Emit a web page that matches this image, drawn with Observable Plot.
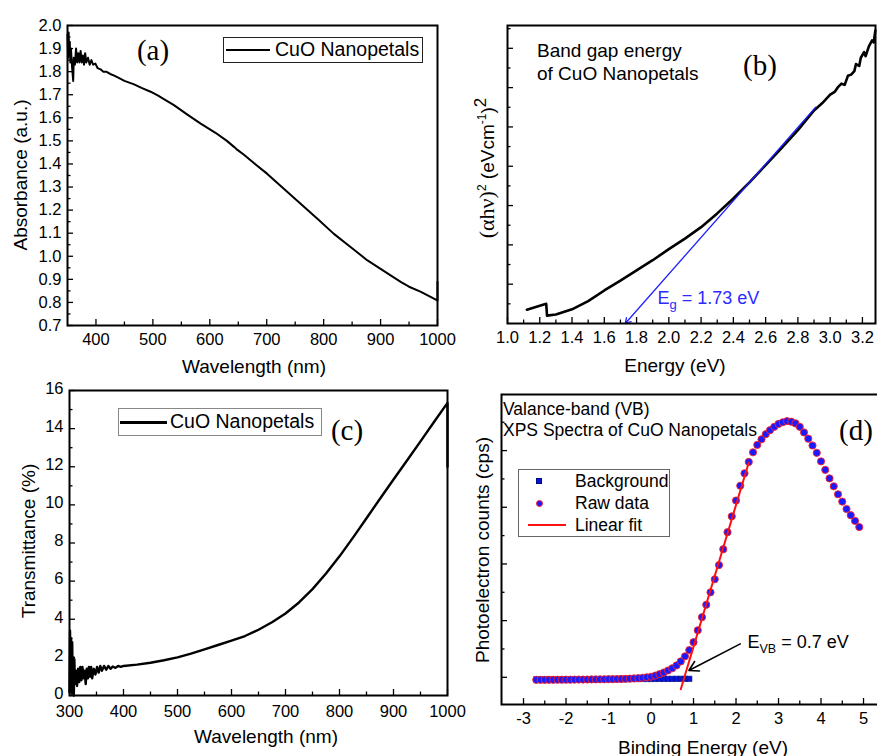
<!DOCTYPE html>
<html><head><meta charset="utf-8">
<script src="https://cdn.jsdelivr.net/npm/d3@7"></script>
<script src="https://cdn.jsdelivr.net/npm/@observablehq/plot@0.6"></script>
<style>
body{margin:0;background:#fff;}
#fig{position:relative;width:877px;height:756px;overflow:hidden;background:#fff;font-family:"Liberation Sans",Arial,sans-serif;color:#000;}
.t{position:absolute;white-space:nowrap;line-height:1;}
.c{transform:translate(-50%,-50%);}
.v{transform:translateY(-50%);}
.rot{transform:translate(-50%,-50%) rotate(-90deg);}
.serif{font-family:"Liberation Serif","Times New Roman",serif;}
.box{position:absolute;box-sizing:border-box;background:#fff;}
</style></head><body><div id="fig"></div><script>
// ---------- DATA ----------
// (a) absorbance vs wavelength (nm)
const absorbance = [[350,1.96],[351,1.86],[352,1.97],[353,1.87],[354,1.93],[355,1.84],[356,1.90],[358,1.82],[360,1.76],[361,1.86],[363,1.83],[365,1.90],[367,1.84],[369,1.88],[371,1.84],[373,1.89],[375,1.84],[377,1.87],[379,1.83],[381,1.88],[383,1.84],[386,1.86],[389,1.83],[392,1.85],[395,1.83],[399,1.835],[403,1.815],[408,1.81],[413,1.80],[418,1.80],[425,1.79],[432,1.783],[440,1.773],[450,1.76],[467,1.745],[480,1.73],[496,1.713],[510,1.695],[520,1.68],[537,1.655],[560,1.615],[584,1.575],[610,1.535],[630,1.50],[643,1.473],[648,1.462],[660,1.44],[680,1.399],[701,1.357],[730,1.293],[760,1.227],[790,1.16],[818,1.097],[850,1.035],[877,0.982],[900,0.945],[936,0.888],[950,0.868],[970,0.847],[998,0.811],[1000,0.808],[1000,0.89]];
// (b) (alpha h nu)^2 vs photon energy (eV)
const bandgap = [[1.12,0.35],[1.24,0.50],[1.245,0.20],[1.30,0.23],[1.40,0.36],[1.50,0.57],[1.60,0.84],[1.70,1.09],[1.80,1.35],[1.90,1.61],[2.00,1.89],[2.10,2.16],[2.20,2.45],[2.30,2.80],[2.40,3.18],[2.50,3.59],[2.60,4.03],[2.70,4.47],[2.80,4.92],[2.90,5.42],[2.95,5.60],[3.00,5.82],[3.03,5.90],[3.05,6.02],[3.07,6.10],[3.09,6.07],[3.11,6.30],[3.13,6.33],[3.15,6.42],[3.16,6.60],[3.18,6.55],[3.19,6.76],[3.21,6.90],[3.22,6.80],[3.24,7.05],[3.26,7.20],[3.27,7.15],[3.28,7.45]];
const bandgapTangent = [{e1: 2.91, v1: 5.5, e2: 1.73, v2: 0}];
const bandgapLabel = [{e: 1.93, v: 0.64, text: "Eg = 1.73 eV"}];
// (c) transmittance (%) vs wavelength (nm)
const transmittance = [[300,0.2],[301,3.4],[302,0.5],[303,3.0],[304,0.1],[305,2.8],[306,0.3],[307,2.0],[308,0.0],[309,1.9],[310,0.6],[312,1.3],[314,0.5],[316,1.4],[318,0.7],[320,1.5],[322,0.8],[324,1.5],[326,0.9],[328,1.3],[330,0.6],[332,1.4],[334,0.9],[336,1.5],[338,1.0],[340,1.5],[342,0.9],[345,1.4],[348,1.1],[351,1.5],[354,1.2],[357,1.55],[360,1.3],[364,1.55],[368,1.35],[372,1.55],[376,1.4],[380,1.52],[385,1.45],[390,1.55],[395,1.5],[400,1.55],[425,1.62],[450,1.72],[475,1.85],[500,2.0],[525,2.2],[550,2.42],[575,2.65],[600,2.88],[625,3.12],[650,3.45],[675,3.84],[700,4.3],[725,4.88],[750,5.58],[775,6.4],[800,7.3],[825,8.28],[850,9.3],[875,10.32],[900,11.33],[925,12.33],[950,13.33],[975,14.35],[1000,15.35],[1000,12.0]];
// (d) valence-band XPS: binding energy (eV) vs counts (arb.)
const vbRaw = [[-2.7,0.955],[-2.6,0.955],[-2.5,0.955],[-2.4,0.956],[-2.3,0.956],[-2.2,0.957],[-2.1,0.957],[-2.0,0.958],[-1.9,0.958],[-1.8,0.959],[-1.7,0.96],[-1.6,0.96],[-1.5,0.961],[-1.4,0.962],[-1.3,0.963],[-1.2,0.964],[-1.1,0.965],[-1.0,0.966],[-0.9,0.967],[-0.8,0.969],[-0.7,0.971],[-0.6,0.973],[-0.5,0.976],[-0.4,0.98],[-0.3,0.985],[-0.2,0.99],[-0.1,1.0],[0.0,1.01],[0.1,1.03],[0.2,1.055],[0.3,1.085],[0.4,1.12],[0.5,1.16],[0.6,1.21],[0.7,1.28],[0.8,1.37],[0.9,1.48],[1.0,1.62],[1.1,1.83],[1.2,2.06],[1.3,2.28],[1.4,2.5],[1.5,2.73],[1.6,2.98],[1.7,3.26],[1.8,3.56],[1.9,3.84],[2.0,4.12],[2.1,4.38],[2.2,4.6],[2.3,4.8],[2.4,4.97],[2.5,5.1],[2.6,5.2],[2.7,5.29],[2.8,5.36],[2.9,5.42],[3.0,5.47],[3.1,5.5],[3.2,5.52],[3.3,5.51],[3.4,5.48],[3.5,5.42],[3.6,5.32],[3.7,5.21],[3.8,5.09],[3.9,4.96],[4.0,4.81],[4.1,4.66],[4.2,4.51],[4.3,4.37],[4.4,4.23],[4.5,4.1],[4.6,3.97],[4.7,3.86],[4.8,3.76],[4.9,3.65]];
const vbBackground = [[-2.7,0.965],[-2.6,0.965],[-2.5,0.965],[-2.4,0.965],[-2.3,0.965],[-2.2,0.966],[-2.1,0.966],[-2.0,0.966],[-1.9,0.966],[-1.8,0.967],[-1.7,0.967],[-1.6,0.967],[-1.5,0.967],[-1.4,0.968],[-1.3,0.968],[-1.2,0.968],[-1.1,0.968],[-1.0,0.969],[-0.9,0.969],[-0.8,0.969],[-0.7,0.969],[-0.6,0.970],[-0.5,0.970],[-0.4,0.970],[-0.3,0.970],[-0.2,0.971],[-0.1,0.971],[0.0,0.971],[0.1,0.971],[0.2,0.972],[0.3,0.972],[0.4,0.972],[0.5,0.972],[0.6,0.973],[0.7,0.973],[0.8,0.973],[0.9,0.973]];
const vbFit = [[0.7,0.79],[2.3,4.79]];
const vbArrow = [{e1: 2.1, c1: 1.59, e2: 0.89, c2: 1.12}];
const vbLabel = [{e: 2.27, c: 1.62, text: "EVB = 0.7 eV"}];

// tick values
const aXMajor = [400,500,600,700,800,900,1000], aXMinor = [450,550,650,750,850,950];
const aYMajor = [0.7,0.8,0.9,1.0,1.1,1.2,1.3,1.4,1.5,1.6,1.7,1.8,1.9,2.0];
const aYMinor = [0.75,0.85,0.95,1.05,1.15,1.25,1.35,1.45,1.55,1.65,1.75,1.85,1.95];
const bXMajor = [1.0,1.2,1.4,1.6,1.8,2.0,2.2,2.4,2.6,2.8,3.0,3.2], bXMinor = [1.1,1.3,1.5,1.7,1.9,2.1,2.3,2.5,2.7,2.9,3.1];
const bYMajor = [1,2,3,4,5,6,7], bYMinor = [0.5,1.5,2.5,3.5,4.5,5.5,6.5,7.5];
const cXMajor = [300,400,500,600,700,800,900,1000], cXMinor = [350,450,550,650,750,850,950];
const cYMajor = [0,2,4,6,8,10,12,14,16], cYMinor = [1,3,5,7,9,11,13,15];
const dXMajor = [-3,-2,-1,0,1,2,3,4,5], dXMinor = [-2.5,-1.5,-0.5,0.5,1.5,2.5,3.5,4.5];
const dYMajor = [1,2,3,4,5], dYMinor = [1.5,2.5,3.5,4.5,5.5];

// ---------- DRAWING ----------
const fig = document.getElementById("fig");
const FONT = '"Liberation Sans", Arial, sans-serif';
const style = {fontFamily: FONT, fontSize: "16.5px", background: "transparent", overflow: "visible", color: "black"};

function axes({xMaj, xMin, yMaj, yMin, xFmt, yFmt, yText = true, xPad = 8, yDy = 0}) {
  const blank = () => "";
  const m = [
    Plot.axisX(xMaj, {tickSize: 6, dy: -6, strokeWidth: 1.3, tickFormat: blank, label: null}),
    Plot.axisX(xMin, {tickSize: 3.5, dy: -3.5, strokeWidth: 1.3, tickFormat: blank, label: null}),
    Plot.axisX(xMaj, {tickSize: 0, tickPadding: xPad, tickFormat: xFmt, label: null}),
    Plot.axisY(yMaj, {tickSize: 6, dx: 6, strokeWidth: 1.3, tickFormat: blank, label: null}),
    Plot.axisY(yMin, {tickSize: 3.5, dx: 3.5, strokeWidth: 1.3, tickFormat: blank, label: null})
  ];
  if (yText) m.push(Plot.axisY(yMaj, {tickSize: 0, tickPadding: 6, dy: yDy, tickFormat: yFmt, label: null}));
  return m;
}
function place(svg, left, top) {
  svg.style.position = "absolute";
  svg.style.left = left + "px";
  svg.style.top = top + "px";
  fig.appendChild(svg);
}
function subText(svg, placeholder, html) {
  svg.querySelectorAll("text").forEach(t => { if (t.textContent === placeholder) t.innerHTML = html; });
}

// Panel (a)
const pa = Plot.plot({
  width: 440, height: 380, marginLeft: 67, marginRight: 3, marginTop: 25, marginBottom: 55, style,
  x: {domain: [350, 1000], label: null}, y: {domain: [0.7, 2.0], label: null},
  marks: [
    ...axes({xMaj: aXMajor, xMin: aXMinor, yMaj: aYMajor, yMin: aYMinor, xFmt: d => String(d), yFmt: d3.format(".1f")}),
    Plot.line(absorbance, {x: d => d[0], y: d => d[1], stroke: "black", strokeWidth: 2}),
    Plot.frame({stroke: "black", strokeWidth: 2})
  ]
});
place(pa, 0, 0);

// Panel (b)
const pb = Plot.plot({
  width: 437, height: 380, marginLeft: 67, marginRight: 2, marginTop: 25, marginBottom: 57, style,
  x: {domain: [1.0, 3.281], label: null}, y: {domain: [0, 7.58], label: null},
  marks: [
    ...axes({xMaj: bXMajor, xMin: bXMinor, yMaj: bYMajor, yMin: bYMinor, xFmt: d3.format(".1f"), yText: false}),
    Plot.line(bandgap, {x: d => d[0], y: d => d[1], stroke: "black", strokeWidth: 2.6}),
    Plot.arrow(bandgapTangent, {x1: "e1", y1: "v1", x2: "e2", y2: "v2", stroke: "#1f1fff", strokeWidth: 1.3, headLength: 7}),
    Plot.text(bandgapLabel, {x: "e", y: "v", text: "text", fill: "#2b2bff", fontSize: 18, textAnchor: "start"}),
    Plot.frame({stroke: "black", strokeWidth: 2})
  ]
});
subText(pb, "Eg = 1.73 eV", 'E<tspan dy="5" font-size="13">g</tspan><tspan dy="-5"> = 1.73 eV</tspan>');
place(pb, 440, 0);

// Panel (c)
const pc = Plot.plot({
  width: 450, height: 376, marginLeft: 69, marginRight: 3, marginTop: 10, marginBottom: 61, style,
  x: {domain: [300, 1000], label: null}, y: {domain: [0, 16], label: null},
  marks: [
    ...axes({xMaj: cXMajor, xMin: cXMinor, yMaj: cYMajor, yMin: cYMinor, xFmt: d => String(d), yFmt: d => String(d), xPad: 10, yDy: -2}),
    Plot.line(transmittance, {x: d => d[0], y: d => d[1], stroke: "black", strokeWidth: 2.4}),
    Plot.frame({stroke: "black", strokeWidth: 2})
  ]
});
place(pc, 0, 380);

// Panel (d)
const pd = Plot.plot({
  width: 427, height: 376, marginLeft: 49, marginRight: 0, marginTop: 14, marginBottom: 52, style,
  x: {domain: [-3.518, 5.376], label: null}, y: {domain: [0.52, 5.99], label: null},
  marks: [
    ...axes({xMaj: dXMajor, xMin: dXMinor, yMaj: dYMajor, yMin: dYMinor, xFmt: d => String(d), yText: false}),
    Plot.dot(vbBackground, {x: d => d[0], y: d => d[1], symbol: "square", r: 3, fill: "#0a14d8", stroke: "#000a80", strokeWidth: 0.6}),
    Plot.dot(vbRaw, {x: d => d[0], y: d => d[1], r: 3.6, fill: "#1a1aff", stroke: "#ff2020", strokeWidth: 0.9}),
    Plot.line(vbFit, {x: d => d[0], y: d => d[1], stroke: "#ff1010", strokeWidth: 2}),
    Plot.arrow(vbArrow, {x1: "e1", y1: "c1", x2: "e2", y2: "c2", stroke: "black", strokeWidth: 1.6, headLength: 10}),
    Plot.text(vbLabel, {x: "e", y: "c", text: "text", fill: "black", fontSize: 18, textAnchor: "start"}),
    Plot.frame({stroke: "black", strokeWidth: 2})
  ]
});
subText(pd, "EVB = 0.7 eV", 'E<tspan dy="5" font-size="12.5">VB</tspan><tspan dy="-5"> = 0.7 eV</tspan>');
place(pd, 452, 380);

// ---------- TEXT, TITLES, LEGENDS ----------
const html = [];
// axis titles
html.push(`<div class="t c" style="left:254px;top:366px;font-size:19px">Wavelength (nm)</div>`);
html.push(`<div class="t rot" style="left:20px;top:175px;font-size:19px">Absorbance (a.u.)</div>`);
html.push(`<div class="t c" style="left:675px;top:365px;font-size:19px">Energy (eV)</div>`);
html.push(`<div class="t rot" style="left:485px;top:168px;font-size:19px"><span class="serif" style="font-size:22px">(αhν)</span><sup style="font-size:12px">2</sup> (eVcm<sup style="font-size:12px">-1</sup>)<sup style="font-size:17px">2</sup></div>`);
html.push(`<div class="t c" style="left:266px;top:736px;font-size:19px">Wavelength (nm)</div>`);
html.push(`<div class="t rot" style="left:28px;top:541px;font-size:19px">Transmittance (%)</div>`);
html.push(`<div class="t c" style="left:703px;top:747px;font-size:19px">Binding Energy (eV)</div>`);
html.push(`<div class="t rot" style="left:482px;top:550px;font-size:19px">Photoelectron counts (cps)</div>`);
// panel letters
html.push(`<div class="t c serif" style="left:153px;top:50px;font-size:29px">(a)</div>`);
html.push(`<div class="t c serif" style="left:760px;top:65px;font-size:29px">(b)</div>`);
html.push(`<div class="t c serif" style="left:347px;top:430px;font-size:29px">(c)</div>`);
html.push(`<div class="t c serif" style="left:856px;top:430px;font-size:29px">(d)</div>`);
// annotations
html.push(`<div class="t v" style="left:537px;top:50px;font-size:19px">Band gap energy</div>`);
html.push(`<div class="t v" style="left:537px;top:73px;font-size:19px">of CuO Nanopetals</div>`);
html.push(`<div class="t v" style="left:503px;top:410px;font-size:17.5px">Valance-band (VB)</div>`);
html.push(`<div class="t v" style="left:503px;top:431px;font-size:17.5px">XPS Spectra of CuO Nanopetals</div>`);
// legend (a)
html.push(`<div class="box" style="left:223px;top:37px;width:200px;height:26px;border:1.5px solid #222"></div>`);
html.push(`<div class="box" style="left:226px;top:49px;width:44px;height:2px;background:#000"></div>`);
html.push(`<div class="t v" style="left:275px;top:50px;font-size:19.5px">CuO Nanopetals</div>`);
// legend (c)
html.push(`<div class="box" style="left:118px;top:408px;width:204px;height:28px;border:1.5px solid #888"></div>`);
html.push(`<div class="box" style="left:120px;top:421px;width:47px;height:2.5px;background:#000"></div>`);
html.push(`<div class="t v" style="left:170px;top:422px;font-size:19.5px">CuO Nanopetals</div>`);
// legend (d)
html.push(`<div class="box" style="left:518px;top:469px;width:152px;height:68px;border:1px solid #666"></div>`);
html.push(`<div class="box" style="left:536px;top:478px;width:6px;height:6px;background:#0a14d8;border:0.6px solid #000a80"></div>`);
html.push(`<div class="box" style="left:535.5px;top:499.5px;width:7px;height:7px;border-radius:50%;background:#1a1aff;border:0.9px solid #ff2020"></div>`);
html.push(`<div class="box" style="left:528px;top:524px;width:38px;height:2px;background:#ff1010"></div>`);
html.push(`<div class="t v" style="left:575px;top:482px;font-size:17.5px">Background</div>`);
html.push(`<div class="t v" style="left:575px;top:504px;font-size:17.5px">Raw data</div>`);
html.push(`<div class="t v" style="left:575px;top:526px;font-size:17.5px">Linear fit</div>`);
fig.insertAdjacentHTML("beforeend", html.join(""));
</script></body></html>
